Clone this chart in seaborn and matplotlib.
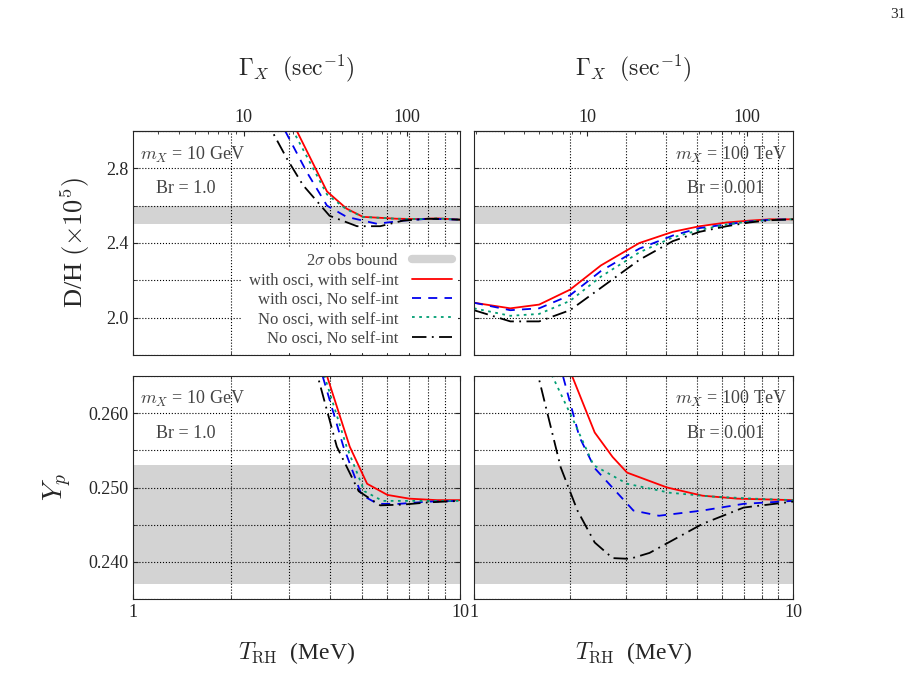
import numpy as np
import pandas as pd
import matplotlib
matplotlib.use("Agg")
import matplotlib.pyplot as plt
import seaborn as sns
from matplotlib.lines import Line2D
from matplotlib.ticker import LogLocator, MultipleLocator, NullFormatter, FixedLocator, FixedFormatter

sns.set_style("ticks")
plt.rcParams['font.family'] = ['Liberation Serif', 'DejaVu Serif']
plt.rcParams['mathtext.fontset'] = 'cm'

series_names = ["with osci, with self-int", "with osci, No self-int",
                "No osci, with self-int", "No osci, No self-int"]

# D/H, m_X = 10 GeV, Br = 1.0
dh_left_T = {
    0: [3.05, 3.17, 3.92, 4.5, 5.05, 6.4, 7.5, 8.5, 10.0],
    1: [2.80, 2.92, 3.4, 3.92, 4.5, 5.57, 6.7, 8.0, 10.0],
    2: [2.95, 3.09, 3.92, 4.5, 5.05, 6.4, 7.5, 8.5, 10.0],
    3: [2.55, 2.66, 2.96, 3.31, 3.99, 4.84, 5.7, 6.7, 8.0, 10.0],
}
dh_left_v = {
    0: [3.08, 3.0, 2.676, 2.584, 2.54, 2.53, 2.528, 2.532, 2.525],
    1: [3.08, 3.0, 2.78, 2.6, 2.54, 2.503, 2.52, 2.53, 2.525],
    2: [3.08, 3.0, 2.66, 2.58, 2.54, 2.53, 2.528, 2.532, 2.525],
    3: [3.08, 3.0, 2.85, 2.71, 2.546, 2.49, 2.49, 2.52, 2.53, 2.525],
}
# D/H, m_X = 100 TeV, Br = 0.001
dh_right_T = [1.0, 1.3, 1.6, 2.0, 2.5, 3.3, 4.2, 5.1, 6.2, 7.3, 8.5, 10.0]
dh_right_v = {
    0: [2.08, 2.05, 2.07, 2.15, 2.28, 2.40, 2.46, 2.49, 2.51, 2.52, 2.527, 2.527],
    1: [2.08, 2.04, 2.05, 2.12, 2.25, 2.37, 2.44, 2.48, 2.50, 2.515, 2.525, 2.527],
    2: [2.05, 2.01, 2.02, 2.09, 2.22, 2.35, 2.43, 2.47, 2.50, 2.515, 2.525, 2.527],
    3: [2.04, 1.98, 1.98, 2.04, 2.16, 2.31, 2.41, 2.46, 2.49, 2.51, 2.522, 2.527],
}
# Y_p, m_X = 10 GeV, Br = 1.0
yp_left_T = {
    0: [3.8, 3.92, 4.6, 5.2, 6.0, 7.0, 8.5, 10.0],
    1: [3.7, 3.8, 4.4, 5.0, 5.6, 6.5, 8.0, 10.0],
    2: [3.75, 3.85, 4.5, 5.1, 5.8, 6.8, 8.3, 10.0],
    3: [3.6, 3.67, 4.2, 4.9, 5.7, 6.7, 8.0, 10.0],
}
yp_left_v = {
    0: [0.267, 0.265, 0.2555, 0.2505, 0.249, 0.2485, 0.2483, 0.2483],
    1: [0.267, 0.265, 0.2555, 0.249, 0.2478, 0.2478, 0.2481, 0.2482],
    2: [0.267, 0.265, 0.2555, 0.2495, 0.2482, 0.2482, 0.2482, 0.2482],
    3: [0.267, 0.265, 0.2555, 0.2495, 0.2476, 0.2477, 0.248, 0.2482],
}
# Y_p, m_X = 100 TeV, Br = 0.001
yp_right_T = {
    0: [1.95, 2.03, 2.39, 2.72, 3.02, 4.03, 5.2, 6.7, 10.0],
    1: [1.85, 1.9, 2.14, 2.39, 3.16, 3.8, 5.2, 7.0, 10.0],
    2: [1.7, 1.76, 2.05, 2.37, 3.02, 4.1, 5.5, 7.5, 10.0],
    3: [1.55, 1.59, 1.87, 2.11, 2.39, 2.72, 3.08, 3.55, 5.2, 7.0, 10.0],
}
yp_right_v = {
    0: [0.267, 0.265, 0.2574, 0.2541, 0.2520, 0.2500, 0.2489, 0.2485, 0.2483],
    1: [0.267, 0.265, 0.2568, 0.2526, 0.2469, 0.2462, 0.2469, 0.2478, 0.2482],
    2: [0.267, 0.265, 0.259, 0.2530, 0.2505, 0.2493, 0.2488, 0.2485, 0.2483],
    3: [0.267, 0.265, 0.2527, 0.2469, 0.2426, 0.2405, 0.2404, 0.2412, 0.2451, 0.2473, 0.2481],
}

colors = ["#ff0000", "#0000ee", "#009e73", "#000000"]
dashes = ["-", (0, (5, 4)), (0, (1.5, 2.5)), (0, (8, 3, 1, 3))]

fig = plt.figure(figsize=(9.22, 6.82), dpi=100)
boxes = {(0, 0): [133, 131, 460, 355], (0, 1): [474, 131, 793, 355],
         (1, 0): [133, 376, 460, 599], (1, 1): [474, 376, 793, 599]}
axes = {}
for k, (x0, y0, x1, y1) in boxes.items():
    axes[k] = fig.add_axes([x0 / 922, 1 - y1 / 682, (x1 - x0) / 922, (y1 - y0) / 682])


def draw(ax, Tdict, vdict):
    for i, name in enumerate(series_names):
        T = Tdict[i] if isinstance(Tdict, dict) else Tdict
        df = pd.DataFrame({"T": T, "v": vdict[i]})
        sns.lineplot(data=df, x="T", y="v", ax=ax, color=colors[i], lw=1.3,
                     linestyle=dashes[i], label=name, legend=False, sort=False)


draw(axes[(0, 0)], dh_left_T, dh_left_v)
draw(axes[(0, 1)], dh_right_T, dh_right_v)
draw(axes[(1, 0)], yp_left_T, yp_left_v)
draw(axes[(1, 1)], yp_right_T, yp_right_v)

for (r, c), ax in axes.items():
    ax.set_xscale("log")
    ax.set_xlim(1, 10)
    if r == 0:
        ax.axhspan(2.5, 2.6, color="#d3d3d3", lw=0, zorder=0)
        ax.set_ylim(1.8, 3.0)
        ax.yaxis.set_major_locator(MultipleLocator(0.4))
        ax.yaxis.set_minor_locator(MultipleLocator(0.2))
        ax.yaxis.set_major_formatter(plt.FuncFormatter(lambda v, p: f"{v:.1f}"))
        ax.set_xticklabels([])
        a = 2.1 if c == 0 else 1.95
        sec = ax.secondary_xaxis("top", functions=(lambda t, a=a: a * t ** 2,
                                                    lambda g, a=a: np.sqrt(np.abs(g) / a)))
        sec.xaxis.set_major_locator(FixedLocator([10, 100]))
        sec.xaxis.set_major_formatter(FixedFormatter(["10", "100"]))
        sec.xaxis.set_minor_locator(LogLocator(subs=np.arange(2, 10)))
        sec.xaxis.set_minor_formatter(NullFormatter())
        sec.tick_params(which="both", direction="in", labelsize=13)
        sec.set_xlabel(r"$\Gamma_X\ \ (\mathrm{sec}^{-1})$", fontsize=17, labelpad=24)
    else:
        ax.axhspan(0.237, 0.253, color="#d3d3d3", lw=0, zorder=0)
        ax.set_ylim(0.235, 0.265)
        ax.yaxis.set_major_locator(MultipleLocator(0.01))
        ax.yaxis.set_minor_locator(MultipleLocator(0.005))
        ax.yaxis.set_major_formatter(plt.FuncFormatter(lambda v, p: f"{v:.3f}"))
        ax.xaxis.set_major_locator(FixedLocator([1, 10]))
        ax.xaxis.set_major_formatter(FixedFormatter(["1", "10"]))
        ax.set_xlabel(r"$T_{\mathrm{RH}}$  (MeV)", fontsize=17, labelpad=14)
    ax.xaxis.set_minor_locator(LogLocator(subs=np.arange(2, 10)))
    ax.xaxis.set_minor_formatter(NullFormatter())
    ax.grid(True, which="both", axis="y", color="black", ls=":", lw=0.8)
    ax.grid(True, which="minor", axis="x", color="black", ls=":", lw=0.8)
    ax.tick_params(which="both", direction="in", top=(r == 1), right=True, labelsize=13)
    ax.set_ylabel("")
    if c == 1:
        ax.set_yticklabels([])
    if r == 0:
        ax.set_xlabel("")

axes[(0, 0)].set_ylabel(r"D/H $(\times 10^5)$", fontsize=19, labelpad=10)
axes[(1, 0)].set_ylabel(r"$Y_p$", fontsize=20, labelpad=10)

txt = dict(fontsize=13, color="#444444")
for k in [(0, 0), (1, 0)]:
    axes[k].text(0.02, 0.94, r"$m_X$ = 10 GeV", transform=axes[k].transAxes, va="top", **txt)
    axes[k].text(0.07, 0.78, "Br = 1.0", transform=axes[k].transAxes, va="top", **txt)
for k in [(0, 1), (1, 1)]:
    axes[k].text(0.98, 0.94, r"$m_X$ = 100 TeV", transform=axes[k].transAxes, va="top", ha="right", **txt)
    axes[k].text(0.91, 0.78, "Br = 0.001", transform=axes[k].transAxes, va="top", ha="right", **txt)

h, l = axes[(0, 0)].get_legend_handles_labels()
hh = [Line2D([], [], color="#d3d3d3", lw=6)] + [h[l.index(n)] for n in series_names]
leg = axes[(0, 0)].legend(hh, ["2$\\sigma$ obs bound"] + series_names, loc="lower right", markerfirst=False,
                          frameon=True, facecolor="white", edgecolor="none", framealpha=1,
                          fontsize=12, handlelength=2.4, borderaxespad=0.1, labelspacing=0.2)
for t in leg.get_texts():
    t.set_color("#444444")

fig.text(898 / 922, 1 - 14 / 682, "31", fontsize=11, ha="center", va="center")
fig.savefig("out.png", dpi=100)
